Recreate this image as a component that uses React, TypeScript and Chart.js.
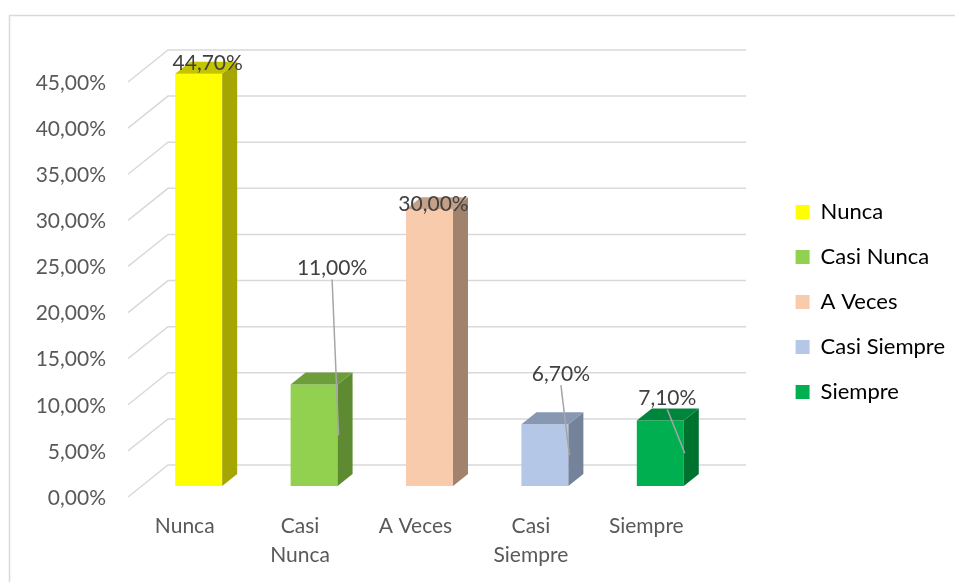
import React, { useEffect, useRef } from 'react';
import { Chart, registerables } from 'chart.js';

Chart.register(...registerables);

// ---- data ----
const categoryLabels: (string | string[])[] = ['Nunca', ['Casi', 'Nunca'], 'A Veces', ['Casi', 'Siempre'], 'Siempre'];
const legendNames: string[] = ['Nunca', 'Casi Nunca', 'A Veces', 'Casi Siempre', 'Siempre'];
const values: number[] = [44.7, 11.0, 30.0, 6.7, 7.1];
const yMin = 0;
const yMax = 45;
const yStep = 5;

// ---- styles ----
const frontColors = ['#FFFF00', '#92D050', '#F8CBAD', '#B4C7E7', '#00B050'];
const sideColors = ['#A6A600', '#5E8A32', '#A0826D', '#75839A', '#00722F'];
const topColors = ['#C4C400', '#6E9E3C', '#C4A089', '#8898B2', '#00863C'];
// data label offsets in px relative to (bar centre x, bar top y)
const labelOffsets: [number, number][] = [[9, -11], [18, -116], [4, -5], [16, -50], [7, -22]];
const hasLeader = [false, true, false, true, true];

const FONT = 'Lato, "Open Sans", sans-serif';
const fmt = (v: number) => v.toFixed(2).replace('.', ',') + '%';

const DEPTH_FRONT: [number, number] = [-13, 11];
const DEPTH_BACK: [number, number] = [27, -21];
const BAR_DEPTH: [number, number] = [15, -12];

const threeD = {
  id: 'threeD',
  beforeDraw(chart: any) {
    const ctx = chart.ctx;
    ctx.save();
    ctx.strokeStyle = '#D9D9D9';
    ctx.lineWidth = 1.5;
    ctx.strokeRect(9.5, 15.5, 980, 600);
    ctx.restore();
  },
  beforeDatasetsDraw(chart: any) {
    const ctx = chart.ctx;
    const y = chart.scales.y;
    const { left, right } = chart.chartArea;
    ctx.save();
    ctx.strokeStyle = '#D9D9D9';
    ctx.lineWidth = 1.5;
    y.ticks.forEach((t: any) => {
      const py = y.getPixelForValue(t.value);
      ctx.beginPath();
      ctx.moveTo(left + DEPTH_FRONT[0], py + DEPTH_FRONT[1]);
      ctx.lineTo(left + DEPTH_BACK[0], py + DEPTH_BACK[1]);
      ctx.lineTo(right + DEPTH_BACK[0] + 1, py + DEPTH_BACK[1]);
      ctx.stroke();
    });
    ctx.restore();
  },
  afterDatasetsDraw(chart: any) {
    const ctx = chart.ctx;
    const meta = chart.getDatasetMeta(0);
    ctx.save();
    meta.data.forEach((el: any, i: number) => {
      const { x, y, base, width } = el.getProps(['x', 'y', 'base', 'width'], true);
      const xl = x - width / 2;
      const xr = x + width / 2;
      const [dx, dy] = BAR_DEPTH;
      ctx.fillStyle = sideColors[i];
      ctx.beginPath();
      ctx.moveTo(xr, y);
      ctx.lineTo(xr + dx, y + dy);
      ctx.lineTo(xr + dx, base + dy);
      ctx.lineTo(xr, base);
      ctx.closePath();
      ctx.fill();
      ctx.fillStyle = topColors[i];
      ctx.beginPath();
      ctx.moveTo(xl, y);
      ctx.lineTo(xl + dx, y + dy);
      ctx.lineTo(xr + dx, y + dy);
      ctx.lineTo(xr, y);
      ctx.closePath();
      ctx.fill();
    });
    ctx.font = `21px ${FONT}`;
    ctx.textAlign = 'center';
    ctx.textBaseline = 'middle';
    meta.data.forEach((el: any, i: number) => {
      const { x, y, base, width } = el.getProps(['x', 'y', 'base', 'width'], true);
      const lx = x + labelOffsets[i][0];
      const ly = y + labelOffsets[i][1];
      if (hasLeader[i]) {
        ctx.strokeStyle = '#A6A6A6';
        ctx.lineWidth = 1.5;
        ctx.beginPath();
        ctx.moveTo(lx, ly + 11);
        ctx.lineTo(x + width / 2 + 1, (y + base) / 2);
        ctx.stroke();
      }
      ctx.fillStyle = '#404040';
      ctx.fillText(fmt(values[i]), lx, ly);
    });
    ctx.restore();
  },
};

export default function App() {
  const ref = useRef<HTMLCanvasElement | null>(null);
  useEffect(() => {
    if (!ref.current) return;
    const chart = new Chart(ref.current, {
      type: 'bar',
      data: {
        labels: categoryLabels as any,
        datasets: [
          {
            data: values,
            backgroundColor: frontColors,
            borderWidth: 0,
            categoryPercentage: 1,
            barPercentage: 0.407,
          },
        ],
      },
      options: {
        responsive: false,
        animation: false,
        events: [],
        layout: { padding: { top: 22, bottom: 0, left: 0, right: 0 } },
        plugins: {
          tooltip: { enabled: false },
          legend: {
            position: 'right',
            align: 'center',
            maxWidth: 260,
            labels: {
              boxWidth: 14,
              boxHeight: 14,
              padding: 23,
              color: '#595959',
              font: { family: FONT, size: 22 },
              generateLabels: () =>
                legendNames.map((n, i) => ({
                  text: n,
                  fillStyle: frontColors[i],
                  strokeStyle: frontColors[i],
                  lineWidth: 0,
                  hidden: false,
                  index: i,
                  datasetIndex: 0,
                })),
            },
          },
        },
        scales: {
          x: {
            grid: { display: false, drawTicks: false },
            border: { display: false },
            ticks: {
              color: '#595959',
              font: { family: FONT, size: 21, lineHeight: 1.38 },
              padding: 26,
              labelOffset: -14,
              autoSkip: false,
              maxRotation: 0,
              minRotation: 0,
            },
            afterFit: (s: any) => {
              s.height = 96;
            },
          },
          xTop: {
            type: 'category',
            position: 'top',
            display: true,
            grid: { display: false, drawTicks: false },
            border: { display: false },
            ticks: { display: false },
            afterFit: (s: any) => {
              s.height = 49;
            },
          },
          y: {
            min: yMin,
            max: yMax,
            grid: { display: false, drawTicks: false },
            border: { display: false },
            ticks: {
              stepSize: yStep,
              color: '#595959',
              font: { family: FONT, size: 21 },
              padding: 35,
              labelOffset: 12,
              callback: (v: any) => fmt(Number(v)),
            },
            afterFit: (s: any) => {
              s.width = 141;
            },
          },
          yR: {
            type: 'linear',
            position: 'right',
            display: true,
            grid: { display: false, drawTicks: false },
            border: { display: false },
            ticks: { display: false },
            afterFit: (s: any) => {
              const lw = s.chart.legend ? s.chart.legend.width : 0;
              s.width = Math.max(0, s.chart.width - lw - 718);
            },
          },
        },
      },
      plugins: [threeD],
    });
    return () => chart.destroy();
  }, []);
  return (
    <div style={{ position: 'fixed', left: 0, top: 0, width: 955, height: 582, background: '#fff' }}>
      <canvas ref={ref} width={955} height={582} style={{ display: 'block' }} />
    </div>
  );
}
